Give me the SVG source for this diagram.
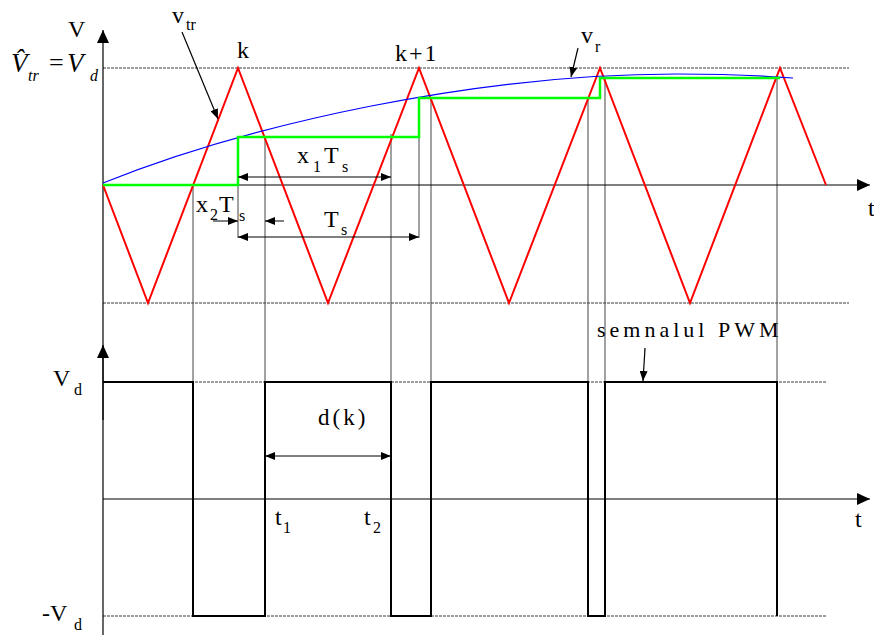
<svg xmlns="http://www.w3.org/2000/svg" width="874" height="635" viewBox="0 0 874 635">
<style>
  text { font-family: "Liberation Serif", "Times New Roman", serif; fill: #000; }
  .m { font-size: 24px; }
  .s { font-size: 16px; }
  .it { font-style: italic; }
  .ref { stroke: #3a3a3a; stroke-width: 1; fill: none; stroke-dasharray: 3 1; }
  .vl { stroke: #444; stroke-width: 1; fill: none; }
  .ax { stroke: #000; stroke-width: 1.2; fill: none; }
  .dim { stroke: #000; stroke-width: 1; fill: none; }
  .ptr { stroke: #000; stroke-width: 1.2; fill: none; }
  .tri { stroke: #ff0000; stroke-width: 2; fill: none; stroke-linejoin: miter; }
  .stair { stroke: #00ff00; stroke-width: 2.5; fill: none; }
  .ref-sig { stroke: #0000ff; stroke-width: 1.2; fill: none; }
  .pwm { stroke: #000; stroke-width: 2; fill: none; }
</style>
<defs>
  <marker id="ah" markerUnits="userSpaceOnUse" markerWidth="10" markerHeight="8" refX="10" refY="4" orient="auto-start-reverse">
    <path d="M0,0 L10,4 L0,8 z" fill="#000"/>
  </marker>
  <marker id="axh" markerUnits="userSpaceOnUse" markerWidth="13" markerHeight="12" refX="13" refY="6" orient="auto">
    <path d="M0,0 L13,6 L0,12 z" fill="#000"/>
  </marker>
</defs>
<rect width="874" height="635" fill="#fff"/>

<g id="grid">
  <line class="ref" x1="103" y1="68" x2="849" y2="68"/>
  <line class="ref" x1="103" y1="303" x2="849" y2="303"/>
  <line class="ref" x1="103" y1="382" x2="826" y2="382"/>
  <line class="ref" x1="103" y1="616" x2="826" y2="616"/>
  <line class="vl" x1="193" y1="185" x2="193" y2="382"/>
  <line class="vl" x1="265" y1="137" x2="265" y2="382"/>
  <line class="vl" x1="391" y1="134" x2="391" y2="382"/>
  <line class="vl" x1="431" y1="98" x2="431" y2="382"/>
  <line class="vl" x1="588" y1="98" x2="588" y2="382"/>
  <line class="vl" x1="605" y1="77" x2="605" y2="382"/>
  <line class="vl" x1="777" y1="77" x2="777" y2="382"/>
  <line class="vl" x1="238" y1="185" x2="238" y2="238"/>
  <line class="vl" x1="419" y1="137" x2="419" y2="238"/>
</g>

<g id="axes">
  <line class="ax" x1="103" y1="635" x2="103" y2="30" marker-end="url(#axh)"/>
  <line class="ax" x1="103" y1="420" x2="103" y2="345" marker-end="url(#axh)"/>
  <line class="ax" x1="103" y1="185" x2="870" y2="185" marker-end="url(#axh)"/>
  <line class="ax" x1="103" y1="499" x2="870" y2="499" marker-end="url(#axh)"/>
</g>

<g id="carrier">
  <polyline class="tri" points="103,185 148,303 238,68 328,303 419,68 509,303 600,68 690,303 780,68 826,185"/>
</g>

<g id="modulating">
  <path class="ref-sig" d="M103,183 C253,123 477,74 677,74 Q740,74 793,78"/>
</g>

<g id="sampled">
  <path class="stair" d="M103,185 H238 V137 H419 V98 H600 V78 H780"/>
</g>

<g id="pwm">
  <path class="pwm" d="M103,382 H193 V616 H265 V382 H391 V616 H431 V382 H588 V616 H605 V382 H777 V616"/>
</g>

<g id="connectors">
  <line class="ptr" x1="182" y1="32" x2="218" y2="119" marker-end="url(#ah)"/>
  <line class="ptr" x1="578" y1="48" x2="571" y2="77" marker-end="url(#ah)"/>
  <line class="ptr" x1="645" y1="348" x2="643" y2="381" marker-end="url(#ah)"/>
  <line class="dim" x1="238" y1="177" x2="391" y2="177" marker-start="url(#ah)" marker-end="url(#ah)"/>
  <line class="dim" x1="238" y1="237" x2="419" y2="237" marker-start="url(#ah)" marker-end="url(#ah)"/>
  <line class="dim" x1="213" y1="221" x2="238" y2="221" marker-end="url(#ah)"/>
  <line class="dim" x1="284" y1="221" x2="265" y2="221" marker-end="url(#ah)"/>
  <line class="dim" x1="265" y1="456" x2="391" y2="456" marker-start="url(#ah)" marker-end="url(#ah)"/>
</g>

<g id="labels">
  <text class="m" x="68" y="37">V</text>
  <text class="it" x="11" y="72" font-size="27">V&#x302;</text>
  <text class="it" x="28" y="81" font-size="16">tr</text>
  <text x="49" y="71" font-size="26">=</text>
  <text class="it" x="67" y="72" font-size="27">V</text>
  <text class="it" x="90" y="81" font-size="16">d</text>

  <text class="m" x="172" y="23">v</text>
  <text class="s" x="186" y="30">tr</text>
  <text class="m" x="237" y="58">k</text>
  <text class="m" x="395" y="61" letter-spacing="2">k+1</text>
  <text class="m" x="581" y="43">v</text>
  <text class="s" x="595" y="52">r</text>
  <text class="m" x="868" y="216">t</text>

  <text class="m" x="297" y="163">x</text>
  <text class="s" x="313" y="172">1</text>
  <text class="m" x="324" y="163">T</text>
  <text class="s" x="342" y="172">s</text>

  <text class="m" x="196" y="212">x</text>
  <text class="s" x="210" y="220">2</text>
  <text class="m" x="219" y="212">T</text>
  <text class="s" x="239" y="221">s</text>

  <text class="m" x="324" y="227">T</text>
  <text class="s" x="341" y="235">s</text>

  <text x="597" y="337" font-size="22" letter-spacing="4">semnalul PWM</text>
  <text x="318" y="425" font-size="23" letter-spacing="3">d(k)</text>

  <text class="m" x="53" y="386">V</text>
  <text class="s" x="74" y="395">d</text>
  <text class="m" x="42" y="621">-V</text>
  <text class="s" x="74" y="630">d</text>

  <text class="m" x="275" y="525">t</text>
  <text class="s" x="283" y="533">1</text>
  <text class="m" x="364" y="525">t</text>
  <text class="s" x="373" y="533">2</text>
  <text class="m" x="855" y="527">t</text>
</g>
</svg>
